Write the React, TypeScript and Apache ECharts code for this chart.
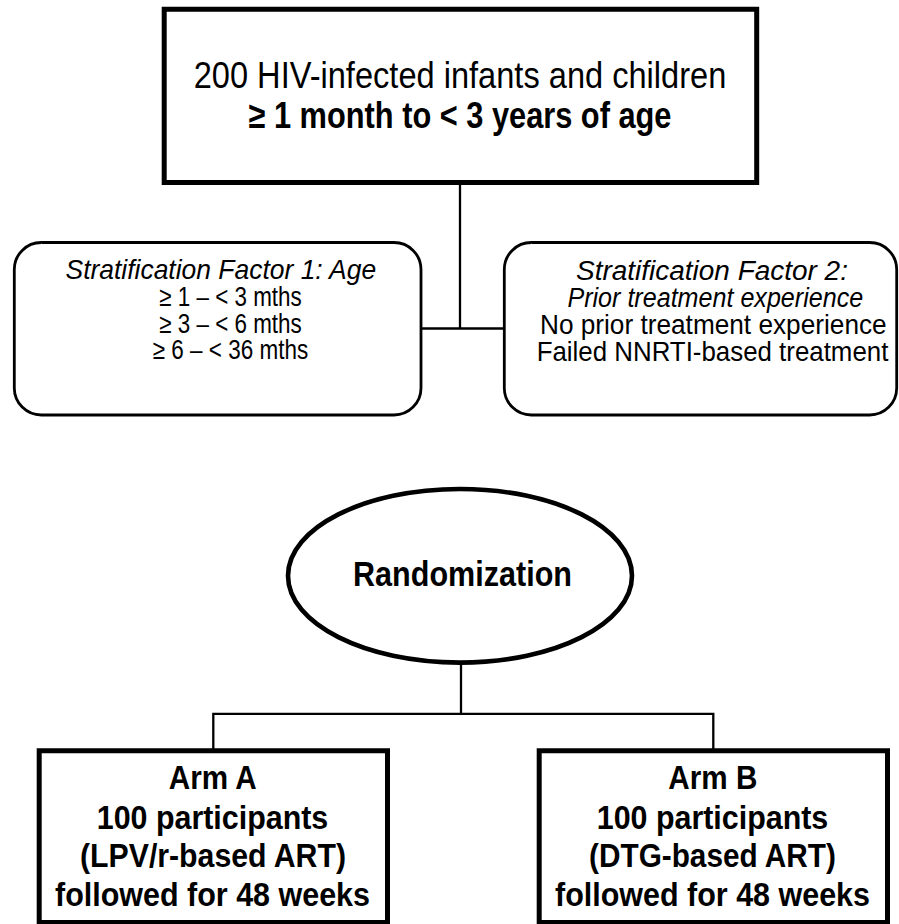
import React, { useEffect, useRef } from "react";
import * as echarts from "echarts";

// ---- Content ----
const topLines = ["200 HIV-infected infants and children", "≥ 1 month to < 3 years of age"];
const factor1Lines = ["Stratification Factor 1: Age", "≥ 1 – < 3 mths", "≥ 3 – < 6 mths", "≥ 6 – < 36 mths"];
const factor2Lines = [
  "Stratification Factor 2:",
  "Prior treatment experience",
  "No prior treatment experience",
  "Failed NNRTI-based treatment",
];
const randomLabel = "Randomization";
const armALines = ["Arm A", "100 participants", "(LPV/r-based ART)", "followed for 48 weeks"];
const armBLines = ["Arm B", "100 participants", "(DTG-based ART)", "followed for 48 weeks"];

const FONT = "'Liberation Sans Narrow', 'Arial Narrow', 'Liberation Sans', Arial, sans-serif";

type LineSpec = { cx: number; cy: number; size: number; w: number; bold?: boolean; italic?: boolean };

let measureCtx: CanvasRenderingContext2D | null = null;
function measure(text: string, size: number, bold: boolean, italic: boolean): number {
  if (!measureCtx) {
    const c = document.createElement("canvas");
    measureCtx = c.getContext("2d");
  }
  if (!measureCtx) return 0;
  measureCtx.font = `${italic ? "italic" : "normal"} ${bold ? "bold" : "normal"} ${size}px ${FONT}`;
  return measureCtx.measureText(text).width;
}

function textEl(text: string, s: LineSpec) {
  const bold = !!s.bold;
  const italic = !!s.italic;
  const m = measure(text, s.size, bold, italic);
  const sx = m > 0 ? s.w / m : 1;
  return {
    type: "text",
    x: s.cx,
    y: s.cy,
    scaleX: sx,
    z: 10,
    style: {
      text,
      fontSize: s.size,
      fontFamily: FONT,
      fontWeight: bold ? "bold" : "normal",
      fontStyle: italic ? "italic" : "normal",
      fill: "#000",
      align: "center",
      verticalAlign: "middle",
      textAlign: "center",
      textVerticalAlign: "middle",
    },
  };
}

export default function App() {
  const ref = useRef<HTMLDivElement>(null);
  useEffect(() => {
    if (!ref.current) return;
    const chart = echarts.init(ref.current, undefined, { renderer: "svg" });

    const topSpecs: LineSpec[] = [
      { cx: 460, cy: 75, size: 37, w: 533 },
      { cx: 460, cy: 114.5, size: 37, w: 423, bold: true },
    ];
    const f1Specs: LineSpec[] = [
      { cx: 220.8, cy: 269.5, size: 27.5, w: 311.7, italic: true },
      { cx: 230.5, cy: 296, size: 27.5, w: 142.4 },
      { cx: 230.5, cy: 322.8, size: 27.5, w: 142.4 },
      { cx: 230.5, cy: 349.5, size: 27.5, w: 155.6 },
    ];
    const f2Specs: LineSpec[] = [
      { cx: 712, cy: 270.8, size: 27.5, w: 272, italic: true },
      { cx: 715.3, cy: 297.8, size: 27.5, w: 296, italic: true },
      { cx: 713.3, cy: 325, size: 27.5, w: 346.7 },
      { cx: 712.5, cy: 352, size: 27.5, w: 351.7 },
    ];
    const armASpecs: LineSpec[] = [
      { cx: 212.8, cy: 778.3, size: 32.5, w: 89, bold: true },
      { cx: 212.5, cy: 818.3, size: 32.5, w: 231.7, bold: true },
      { cx: 213, cy: 856.5, size: 32.5, w: 267.3, bold: true },
      { cx: 212.5, cy: 894.5, size: 32.5, w: 315, bold: true },
    ];
    const armBSpecs: LineSpec[] = [
      { cx: 712.8, cy: 778.3, size: 32.5, w: 89, bold: true },
      { cx: 712.5, cy: 818.3, size: 32.5, w: 231.7, bold: true },
      { cx: 712.5, cy: 856.5, size: 32.5, w: 248, bold: true },
      { cx: 712.5, cy: 894.5, size: 32.5, w: 315, bold: true },
    ];

    const elements: any[] = [];
    const stroke = "#000";
    // connectors
    elements.push(
      { type: "line", z: 1, shape: { x1: 460, y1: 183, x2: 460, y2: 329 }, style: { stroke, lineWidth: 2.3 } },
      { type: "line", z: 1, shape: { x1: 420, y1: 328.5, x2: 506, y2: 328.5 }, style: { stroke, lineWidth: 2.3 } },
      { type: "line", z: 1, shape: { x1: 461, y1: 660, x2: 461, y2: 714 }, style: { stroke, lineWidth: 2.3 } },
      {
        type: "polyline",
        z: 1,
        shape: { points: [[213.3, 752], [213.3, 713.8], [713.3, 713.8], [713.3, 752]] },
        style: { stroke, lineWidth: 2.3, fill: "none" },
      }
    );
    // top box
    elements.push({
      type: "rect",
      z: 2,
      shape: { x: 164.2, y: 9.2, width: 592.5, height: 173.3 },
      style: { fill: "#fff", stroke, lineWidth: 5 },
    });
    // stratification boxes
    elements.push(
      {
        type: "rect",
        z: 2,
        shape: { x: 14.3, y: 242.5, width: 406.7, height: 172.5, r: 27 },
        style: { fill: "#fff", stroke, lineWidth: 2.8 },
      },
      {
        type: "rect",
        z: 2,
        shape: { x: 504.3, y: 242.5, width: 392.4, height: 172.5, r: 27 },
        style: { fill: "#fff", stroke, lineWidth: 2.8 },
      }
    );
    // ellipse
    elements.push({
      type: "ellipse",
      z: 2,
      shape: { cx: 460, cy: 575.8, rx: 172, ry: 86.8 },
      style: { fill: "#fff", stroke, lineWidth: 4.6 },
    });
    // arm boxes
    elements.push(
      {
        type: "rect",
        z: 2,
        shape: { x: 39.2, y: 750.8, width: 348.3, height: 171.7 },
        style: { fill: "#fff", stroke, lineWidth: 5 },
      },
      {
        type: "rect",
        z: 2,
        shape: { x: 539.2, y: 750.8, width: 348.3, height: 171.7 },
        style: { fill: "#fff", stroke, lineWidth: 5 },
      }
    );

    topLines.forEach((t, i) => elements.push(textEl(t, topSpecs[i])));
    factor1Lines.forEach((t, i) => elements.push(textEl(t, f1Specs[i])));
    factor2Lines.forEach((t, i) => elements.push(textEl(t, f2Specs[i])));
    elements.push(textEl(randomLabel, { cx: 462.5, cy: 574.2, size: 35, w: 219, bold: true }));
    armALines.forEach((t, i) => elements.push(textEl(t, armASpecs[i])));
    armBLines.forEach((t, i) => elements.push(textEl(t, armBSpecs[i])));

    chart.setOption({
      animation: false,
      backgroundColor: "#fff",
      graphic: { elements },
    });
    return () => chart.dispose();
  }, []);

  return (
    <div
      ref={ref}
      style={{ position: "fixed", left: 0, top: 0, width: 899, height: 924, background: "#fff" }}
    />
  );
}
